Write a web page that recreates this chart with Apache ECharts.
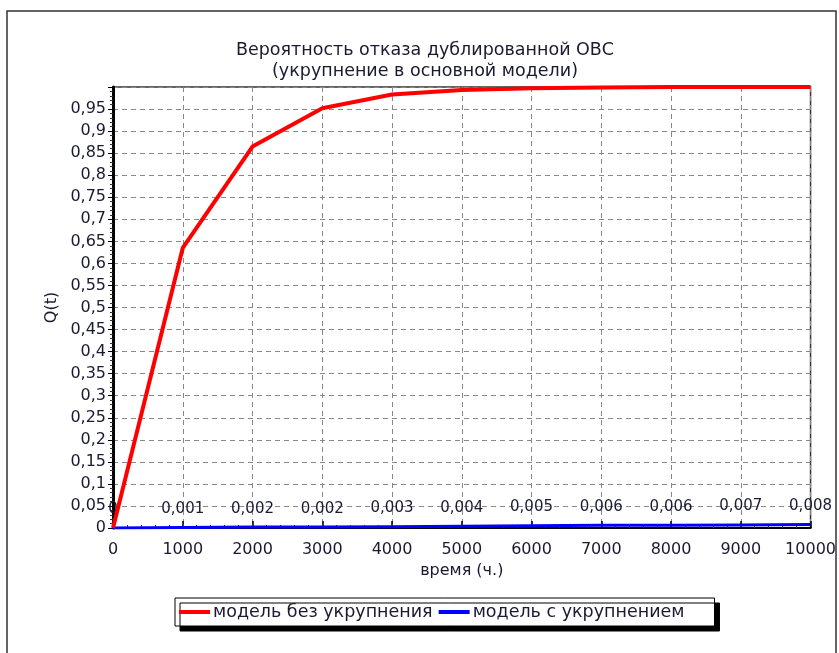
<!DOCTYPE html>
<html><head><meta charset="utf-8">
<script src="https://cdn.jsdelivr.net/npm/echarts@6/dist/echarts.min.js"></script>
<style>html,body{margin:0;padding:0;background:#fff}#c{width:839px;height:653px}</style>
</head><body><div id="c"></div>
<script>
const times = [0,1000,2000,3000,4000,5000,6000,7000,8000,9000,10000];
const qNoMerge = [0,0.635,0.865,0.952,0.983,0.993,0.997,0.999,1.0,1.0,1.0];
const qMerge = [0,0.001,0.002,0.002,0.003,0.004,0.005,0.006,0.006,0.007,0.008];
const seriesNames = ['модель без укрупнения','модель с укрупнением'];
const titleLines = ['Вероятность отказа дублированной ОВС','(укрупнение в основной модели)'];

const font = '"DejaVu Sans", Verdana, sans-serif';
const txt = '#1a1a33';
const chart = echarts.init(document.getElementById('c'));
const fmt = v => String(v).replace('.', ',');
chart.setOption({
  animation:false,
  textStyle:{fontFamily:font},
  graphic:[{type:'rect',shape:{x:7,y:11,width:829,height:660},style:{fill:'none',stroke:'#333',lineWidth:1.5},z:-1}],
  title:{text:titleLines.join('\n'),left:420,textAlign:'center',top:35,
    textStyle:{fontSize:17.5,fontWeight:'normal',color:txt,lineHeight:21,fontFamily:font}},
  grid:{left:113,right:27,top:87,bottom:125,show:true,borderColor:'#333',borderWidth:1.5},
  legend:{left:175,top:598,data:seriesNames,icon:'rect',itemWidth:31,itemHeight:4,itemGap:6,
    padding:[5,30,5,4],borderColor:'#000',borderWidth:1,backgroundColor:'#fff',
    shadowColor:'#000',shadowOffsetX:5,shadowOffsetY:5,shadowBlur:0,
    textStyle:{fontSize:17.5,color:txt,fontFamily:font,padding:[0,0,0,-2]}},
  xAxis:{type:'value',min:0,max:10000,interval:1000,name:'время (ч.)',nameLocation:'middle',nameGap:33,
    nameTextStyle:{fontSize:16,color:txt,fontFamily:font},
    axisLine:{show:true,onZero:false,lineStyle:{color:'#000',width:2}},
    axisTick:{show:true,inside:true,length:7,lineStyle:{color:'#000',width:1.5}},
    minorTick:{show:true,splitNumber:5,length:3,lineStyle:{color:'#333'}},
    axisLabel:{fontSize:16,color:txt,margin:14,fontFamily:font,formatter:v=>String(v)},
    splitLine:{show:true,lineStyle:{color:'#888',type:[5,4],width:1}}},
  yAxis:{type:'value',min:0,max:1,interval:0.05,name:'Q(t)',nameLocation:'middle',nameGap:42,
    nameTextStyle:{fontSize:16,color:txt,fontFamily:font},
    axisLine:{show:true,lineStyle:{color:'#000',width:3}},
    axisTick:{show:true,length:5,lineStyle:{color:'#000'}},
    minorTick:{show:true,splitNumber:5,length:3,lineStyle:{color:'#333'}},
    axisLabel:{fontSize:16,color:txt,margin:7,fontFamily:font,showMaxLabel:false,
      formatter:v=> v>=1 ? '' : fmt(+v.toFixed(2))},
    splitLine:{show:true,lineStyle:{color:'#888',type:[5,4],width:1}}},
  series:[
    {name:seriesNames[0],type:'line',symbol:'none',data:times.map((t,i)=>[t,qNoMerge[i]]),
      lineStyle:{color:'#ff0000',width:4},itemStyle:{color:'#ff0000'},z:3},
    {name:seriesNames[1],type:'line',symbol:'circle',symbolSize:0,showSymbol:true,
      data:times.map((t,i)=>[t,qMerge[i]]),
      lineStyle:{color:'#0000ff',width:3},itemStyle:{color:'#0000ff'},z:2,
      labelLayout:{hideOverlap:false},
      label:{show:true,position:'top',distance:11,fontSize:15,color:txt,fontFamily:font,
        formatter:p=>fmt(p.value[1])}}
  ]
});
</script></body></html>
